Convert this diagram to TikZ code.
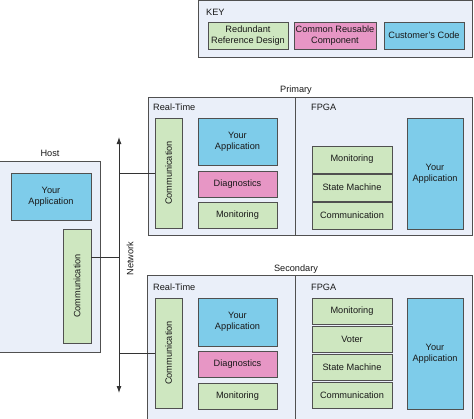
\documentclass[tikz,border=0pt]{standalone}
\usepackage{fontspec}
\setmainfont{Liberation Sans}
\usetikzlibrary{arrows.meta}
\definecolor{cont}{RGB}{234,239,249}
\definecolor{grn}{RGB}{206,231,192}
\definecolor{pnk}{RGB}{231,150,197}
\definecolor{blu}{RGB}{126,204,234}
\definecolor{edge}{RGB}{80,80,80}
\definecolor{txt}{RGB}{25,25,25}
\tikzset{
  every node/.style={font=\fontsize{9.2}{11}\selectfont, text=txt, inner sep=0pt},
  container/.style={draw=edge, fill=cont, line width=0.9pt},
  box/.style={draw=edge, line width=0.9pt, align=center},
  gbox/.style={box, fill=grn},
  pbox/.style={box, fill=pnk},
  bbox/.style={box, fill=blu},
  wire/.style={draw=black!80, line width=0.9pt},
}
\newcommand{\vtext}[1]{\rotatebox{90}{#1}}
\begin{document}
\begin{tikzpicture}[x=1pt,y=-1pt]
\useasboundingbox (0,0) rectangle (474,418);
% containers
\draw[container] (198,0.5) rectangle (472,57);
\draw[container] (-3,161) rectangle (100,352);
\draw[container] (148,97) rectangle (472,235);
\draw[edge, line width=0.9pt] (295,97) -- (295,235);
\draw[container] (147,275) rectangle (472,430);
\draw[edge, line width=0.9pt] (295,275) -- (295,430);
% titles
\node[anchor=west] (keyt) at (206,12) {KEY};
\node (hostt) at (50,153) {Host};
\node (primt) at (296,90) {Primary};
\node (sect) at (296,269) {Secondary};
\node[anchor=west] (prt) at (153,107) {Real-Time};
\node[anchor=west] (pft) at (311,107) {FPGA};
\node[anchor=west] (srt) at (153,287) {Real-Time};
\node[anchor=west] (sft) at (311,287) {FPGA};
% key
\node[gbox, minimum width=80, minimum height=27] (k1) at (248,35.5) {Redundant\\Reference Design};
\node[pbox, minimum width=82, minimum height=27] (k2) at (335,35.5) {Common Reusable\\Component};
\node[bbox, minimum width=80, minimum height=27] (k3) at (424,35.5) {Customer's Code};
% host
\node[bbox, minimum width=80, minimum height=47] (happ) at (51,196.5) {Your\\Application};
\node[gbox, minimum width=28, minimum height=114] (hcomm) at (77,286) {\vtext{Communication}};
% primary real-time
\node[gbox, minimum width=27, minimum height=110] (pcomm) at (168.5,173) {\vtext{Communication}};
\node[bbox, minimum width=79, minimum height=47] (papp) at (237.5,141.5) {Your\\Application};
\node[pbox, minimum width=79, minimum height=26] (pdiag) at (237.5,184) {Diagnostics};
\node[gbox, minimum width=79, minimum height=26] (pmon) at (237.5,215) {Monitoring};
% primary fpga
\node[gbox, minimum width=80, minimum height=27] (pfmon) at (352,159.5) {Monitoring};
\node[gbox, minimum width=80, minimum height=27] (pfsm) at (352,187.5) {State Machine};
\node[gbox, minimum width=80, minimum height=27] (pfcomm) at (352,215.5) {Communication};
\node[bbox, minimum width=56, minimum height=111] (pfapp) at (435,173.5) {Your\\Application};
% secondary real-time
\node[gbox, minimum width=27, minimum height=110] (scomm) at (168.5,353) {\vtext{Communication}};
\node[bbox, minimum width=79, minimum height=48] (sapp) at (237.5,322) {Your\\Application};
\node[pbox, minimum width=79, minimum height=26] (sdiag) at (237.5,364) {Diagnostics};
\node[gbox, minimum width=79, minimum height=26] (smon) at (237.5,396) {Monitoring};
% secondary fpga
\node[gbox, minimum width=80, minimum height=26.5] (sfmon) at (352,311.5) {Monitoring};
\node[gbox, minimum width=80, minimum height=26.5] (sfvot) at (352,339.5) {Voter};
\node[gbox, minimum width=80, minimum height=26.5] (sfsm) at (352,367.5) {State Machine};
\node[gbox, minimum width=80, minimum height=26.5] (sfcomm) at (352,395.5) {Communication};
\node[bbox, minimum width=56, minimum height=111] (sfapp) at (435,353.5) {Your\\Application};
% network
\coordinate (ntop) at (119,137);
\coordinate (nbot) at (119,393);
\coordinate (hy) at (0,257);
\draw[wire, {Latex[length=7pt,width=5pt]}-{Latex[length=7pt,width=5pt]}] (nbot) -- (ntop);
\node[rotate=90] (netl) at (130,258.5) {Network};
\draw[wire] (hcomm.east |- hy) -- (ntop |- hy);
\draw[wire] (pcomm.west) -- (ntop |- pcomm.west);
\draw[wire] (scomm.west) -- (ntop |- scomm.west);
\end{tikzpicture}
\end{document}
